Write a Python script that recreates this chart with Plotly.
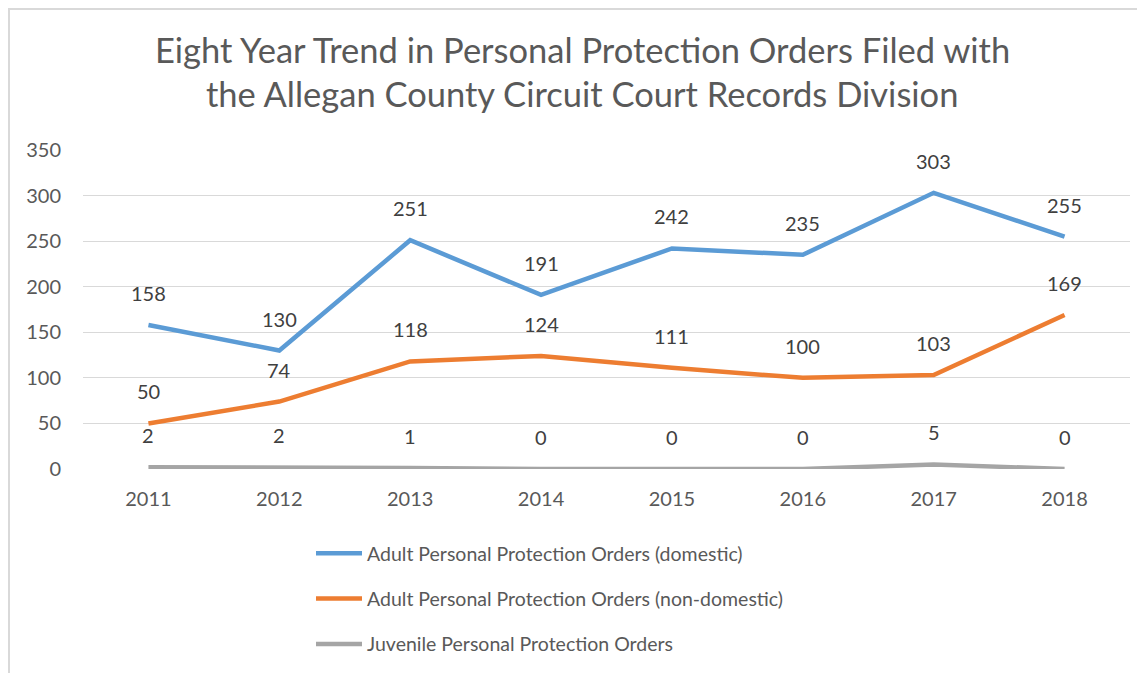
import plotly.graph_objects as go

years = ["2011", "2012", "2013", "2014", "2015", "2016", "2017", "2018"]
domestic = [158, 130, 251, 191, 242, 235, 303, 255]
non_domestic = [50, 74, 118, 124, 111, 100, 103, 169]
juvenile = [2, 2, 1, 0, 0, 0, 5, 0]

series_names = [
    "Adult Personal Protection Orders (domestic)",
    "Adult Personal Protection Orders (non-domestic)",
    "Juvenile Personal Protection Orders",
]
series_values = [domestic, non_domestic, juvenile]
colors = ["#5B9BD5", "#ED7D31", "#A5A5A5"]
y_ticks = [0, 50, 100, 150, 200, 250, 300, 350]
title_lines = [
    "Eight Year Trend in Personal Protection Orders Filed with",
    "the Allegan County Circuit Court Records Division",
]

FONT = "Lato"
TXT = "#595959"

OFF = 8  # page body margin offset
W, H = 1145, 673
L = 83 - OFF
T = 150 - OFF
R = W - (1130 - OFF)
B = H - (469 - OFF)
pw = W - L - R
ph = H - T - B


def py(p):
    """page pixel row -> paper y"""
    return (H - B - (p - OFF)) / ph


def px(p):
    """page pixel column -> paper x"""
    return ((p - OFF) - L) / pw


fig = go.Figure()
for i, (name, vals, col) in enumerate(zip(series_names, series_values, colors)):
    fig.add_trace(go.Scatter(
        x=years, y=vals, mode="lines", name=name,
        line=dict(color=col, width=4.5),
        legendgroup=f"g{i}",
        hoverinfo="skip",
    ))

annotations = []
for vals in series_values:
    for i, v in enumerate(vals):
        annotations.append(dict(
            x=i, y=v, xref="x", yref="y", text=str(v), showarrow=False,
            yshift=32, font=dict(family=FONT, size=20, color="#404040"),
        ))

for line, cy in zip(title_lines, [50, 93]):
    annotations.append(dict(
        x=px(582), y=py(cy), xref="paper", yref="paper", text=line,
        showarrow=False, xanchor="center", yanchor="middle",
        font=dict(family=FONT, size=34.5, color=TXT),
    ))

fig.update_layout(
    width=W, height=H,
    margin=dict(l=L, r=R, t=T, b=B, autoexpand=False),
    paper_bgcolor="white", plot_bgcolor="white",
    font=dict(family=FONT, size=20, color=TXT),
    xaxis=dict(
        type="category", range=[-0.5, 7.5], showgrid=False, zeroline=False,
        showline=False, ticks="", tickfont=dict(size=20, color=TXT),
        ticklabelstandoff=16, automargin=False,
    ),
    yaxis=dict(
        range=[0, 350], tickvals=y_ticks, showgrid=True, gridcolor="#D9D9D9",
        gridwidth=1.3, zeroline=False, showline=False, ticks="",
        tickfont=dict(size=20, color=TXT), ticklabelstandoff=21,
        automargin=False,
    ),
    legend=dict(
        orientation="v", x=px(311), xanchor="left",
        y=py(534), yanchor="top",
        font=dict(family=FONT, size=19.5, color=TXT),
        traceorder="grouped", tracegroupgap=17, itemwidth=46,
        bgcolor="rgba(0,0,0,0)",
    ),
    showlegend=True,
    annotations=annotations,
    shapes=[dict(
        type="rect", xref="paper", yref="paper",
        x0=px(OFF + 1), x1=px(W + 30),
        y0=py(H + 30), y1=py(OFF + 1),
        line=dict(color="#D9D9D9", width=2), fillcolor="rgba(0,0,0,0)",
        layer="below",
    )],
)

fig.write_html("out.html")
